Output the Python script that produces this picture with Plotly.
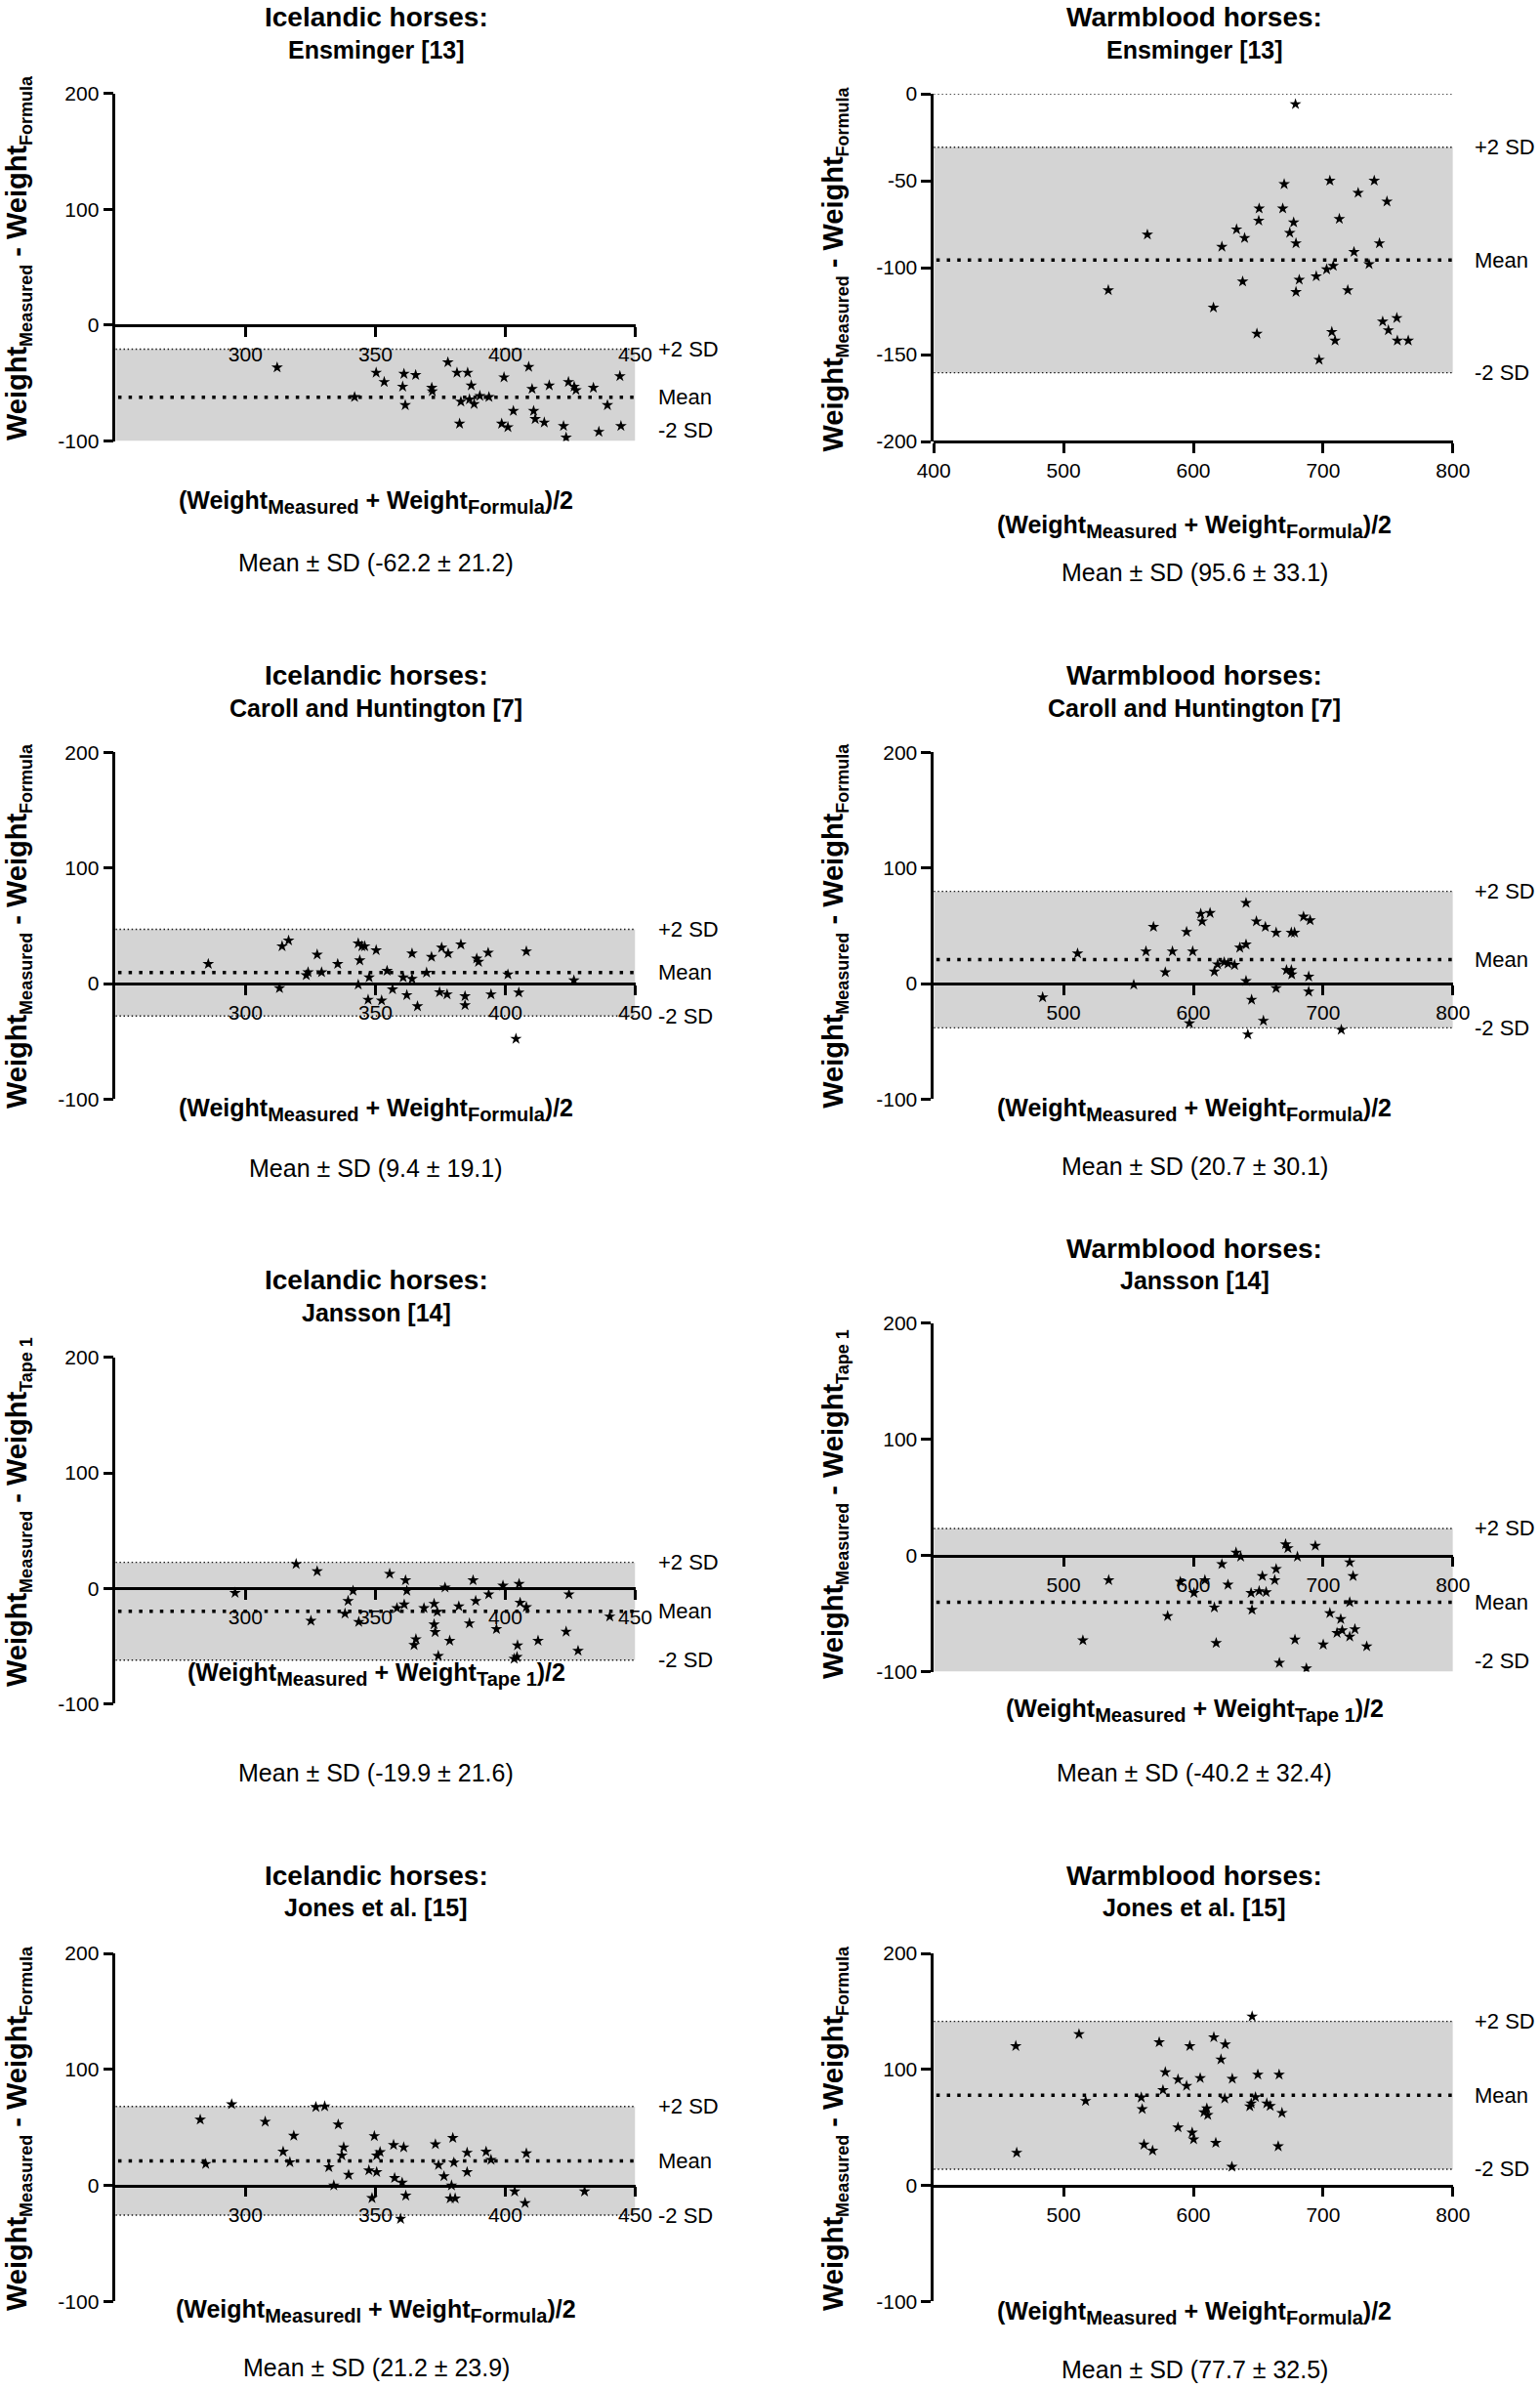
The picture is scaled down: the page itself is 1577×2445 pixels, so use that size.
import plotly.graph_objects as go

W, H = 1577, 2445
FONT = "Arial, Liberation Sans, Helvetica, sans-serif"

# ---------------- data ----------------
ice_ens_x = [312.2, 342.0, 350.3, 353.4, 361.0, 360.5, 361.5, 365.5, 371.7, 371.9, 377.9, 381.4, 385.5, 386.9,
             386.2, 382.9, 388.0, 390.2, 382.4, 393.7, 399.5, 398.6, 401.0, 403.1, 409.0, 410.3, 410.9, 411.5,
             415.0, 416.9, 422.4, 423.4, 424.3, 426.5, 427.2, 433.9, 436.0, 439.3, 444.1, 444.5]
ice_ens_y = [-36.5, -62, -41, -49, -42, -53, -69, -43, -54, -57, -32, -41, -41, -52, -64, -66, -68, -61, -85,
             -62, -45, -85, -88, -74, -36, -55, -74, -81, -84, -52, -87, -97, -49, -53, -56, -54, -92, -69,
             -44, -87]

wb_ens_x = [678.7, 564.6, 534.5, 622.0, 633.3, 639.5, 638.0, 615.5, 650.7, 650.4, 649.0, 668.9, 670.0, 677.3,
            674.3, 679.1, 681.6, 679.1, 694.7, 702.7, 707.8, 705.2, 706.7, 709.2, 696.9, 712.5, 719.0, 723.8,
            727.0, 735.4, 739.4, 743.4, 749.2, 745.9, 750.3, 756.8, 757.2, 765.6]
wb_ens_y = [-6, -81, -113, -88, -78, -83, -108, -123, -66, -73, -138, -66, -52, -74, -80, -86, -107, -114,
            -105, -101, -99, -50, -137, -142, -153, -72, -113, -91, -57, -98, -50, -86, -62, -131, -136,
            -129, -142, -142]

ice_car_x = [285.7, 313.1, 314.1, 316.6, 323.4, 324.1, 327.6, 329.3, 335.5, 343.4, 344.8, 345.9, 344.0, 343.4,
             347.6, 350.3, 347.2, 352.4, 354.5, 356.6, 360.7, 364.1, 364.1, 362.1, 366.2, 369.7, 371.6, 375.5,
             378.0, 374.7, 377.6, 382.9, 384.5, 384.5, 389.0, 389.7, 393.4, 394.5, 401.0, 405.2, 404.1, 408.1,
             426.4]
ice_car_y = [16.9, -4, 32.2, 37.2, 7.2, 9.7, 25, 9.7, 16.9, 34.7, 32.2, 32.2, 20, -1, 5.3, 28.8, -14, -14.7,
             11, -5, 5.3, 26, 4, -10, -19.7, 9.4, 23, 31, 26, -7.5, -9.4, 33.75, -11, -18.75, 21.6, 18.75,
             26.6, -9.4, 7.8, -7.8, -47.8, 27.8, 2.8]

wb_car_x = [483.9, 510.8, 554.1, 563.5, 569.3, 578.4, 583.9, 594.8, 597.0, 599.5, 605.7, 606.8, 612.9, 616.2,
            618.7, 623.8, 626.7, 631.8, 635.8, 640.6, 640.6, 640.6, 642.0, 644.9, 648.6, 654.0, 655.5, 663.8,
            663.8, 671.8, 675.5, 675.8, 675.5, 678.0, 684.9, 690.0, 688.9, 688.9, 714.0]
wb_car_y = [-11.9, 26, -1, 27.8, 49, 9.7, 27.8, 44.7, -34.4, 27.8, 60.3, 53.75, 61, 10.3, 16.6, 18.4, 17.2,
            16, 31, 33.75, 69.7, 2.2, -44, -14, 53.75, -32.2, 49, 44, -4, 11.6, 11.6, 7.8, 44, 44, 57.8,
            54.7, 6, -7, -40]

ice_jan_x = [296.0, 319.5, 327.6, 325.2, 339.5, 341.4, 338.3, 343.6, 355.5, 358.3, 361.6, 362.1, 361.1, 364.9,
             365.6, 368.7, 372.6, 373.8, 372.6, 373.0, 374.2, 376.8, 378.6, 382.1, 386.2, 387.6, 388.6, 393.6,
             396.6, 399.1, 405.3, 405.7, 408.1, 404.7, 403.4, 404.5, 412.6, 424.5, 423.4, 428.0, 440.2]
ice_jan_y = [-4, 21, 14.7, -28.2, -11, -2.2, -22, -29.2, 12.5, -17.2, 6.9, -2.2, -14.1, -49.2, -44.2, -17.2,
             -13.5, -20.4, -31.3, -38, -58.6, 0.6, -45.5, -15.7, -30.4, 6.9, -11, -5.3, -35.4, 2.2, 3.8,
             -12.5, -16.3, -49.5, -61.1, -59.6, -45.5, -5.3, -37.6, -54.2, -24.5]

wb_jan_x = [514.9, 534.8, 580.2, 590.0, 600.5, 608.9, 616.2, 617.6, 622.0, 626.7, 632.9, 636.5, 644.5, 645.2,
            650.7, 653.2, 656.1, 662.7, 663.8, 666.3, 671.1, 672.9, 678.3, 680.2, 687.1, 694.0, 700.1, 705.2,
            713.6, 710.7, 714.7, 720.5, 720.5, 720.5, 723.1, 724.5, 733.6]
wb_jan_y = [-73, -21.2, -52.1, -22.5, -32.2, -21.2, -44.7, -75.3, -7.4, -25.1, 2.6, -1, -32.2, -46.7, -30.6,
            -17.7, -31.5, -21.2, -11.6, -92.4, 9.7, 6.4, -72.4, -1, -97.2, 8.4, -76.6, -49.6, -54.7, -66.6,
            -64.4, -69.8, -40.2, -5.8, -17.7, -63.4, -78.2]

ice_jon_x = [282.6, 284.7, 294.7, 307.6, 314.5, 317.1, 318.6, 327.1, 330.5, 332.1, 334.0, 335.7, 337.8, 337.1,
             339.7, 347.5, 348.7, 349.6, 350.5, 350.5, 351.8, 357.0, 357.4, 360.3, 360.9, 361.7, 359.7, 373.1,
             374.3, 376.4, 379.3, 379.8, 380.2, 378.8, 380.7, 385.3, 385.3, 392.6, 394.5, 403.6, 408.1, 407.6,
             430.5]
ice_jon_y = [56.7, 18.5, 70, 54.9, 29.1, 20, 42.8, 67.6, 68.2, 15.8, 0, 52.5, 32.8, 25.8, 9.1, 13, -10.9,
             42.5, 11.5, 25.8, 28.8, 34.9, 6.4, 2.4, 32.8, -8.8, -28.8, 35.5, 17.6, 7.9, 0, 40.9, 19.7, -11.2,
             -11.2, 28.2, 11.5, 29.1, 22.1, -5.2, 27.6, -15.2, -5.2]

wb_jon_x = [463.2, 463.9, 511.9, 517.0, 559.9, 560.6, 562.0, 568.6, 573.7, 576.6, 578.4, 588.2, 588.2, 594.8,
            597.3, 599.1, 600.2, 605.3, 608.2, 610.4, 611.1, 615.8, 617.3, 621.3, 624.6, 624.2, 630.0, 629.7,
            643.5, 644.6, 645.3, 647.9, 649.7, 656.6, 659.2, 666.1, 665.4, 668.3]
wb_jon_y = [120.1, 28.2, 130.4, 72.8, 75.8, 65.8, 35.2, 30, 123.4, 82.2, 97.6, 91.3, 50, 85.8, 120.1, 45.5,
            39.7, 92.5, 63.1, 66.4, 60.7, 127.7, 36.7, 108.6, 121.6, 74.9, 91.9, 16.1, 68.2, 70.7, 145.6,
            76.1, 95.5, 70.7, 68.5, 95.5, 33.7, 62.5]

# bias (mean difference) and SD of each panel, as plotted
mean_vals = [-62.2, -95.6, 9.4, 20.7, -19.9, -40.2, 21.2, 77.7]
sd_vals = [21.2, 33.1, 19.1, 30.1, 21.6, 32.4, 23.9, 32.5]
stat_labels = ["Mean ± SD (-62.2 ± 21.2)", "Mean ± SD (95.6 ± 33.1)", "Mean ± SD (9.4 ± 19.1)",
               "Mean ± SD (20.7 ± 30.1)", "Mean ± SD (-19.9 ± 21.6)", "Mean ± SD (-40.2 ± 32.4)",
               "Mean ± SD (21.2 ± 23.9)", "Mean ± SD (77.7 ± 32.5)"]

breeds = ["Icelandic horses:", "Warmblood horses:"] * 4
methods = ["Ensminger [13]", "Ensminger [13]", "Caroll and Huntington [7]", "Caroll and Huntington [7]",
           "Jansson [14]", "Jansson [14]", "Jones et al. [15]", "Jones et al. [15]"]
y_subs = ["Formula", "Formula", "Formula", "Formula", "Tape 1", "Tape 1", "Formula", "Formula"]
x_first_subs = ["Measured", "Measured", "Measured", "Measured", "Measured", "Measured", "Measuredl", "Measured"]

left_xticks = [300, 350, 400, 450]
right_xticks_full = [400, 500, 600, 700, 800]
right_xticks = [500, 600, 700, 800]
std_yticks = [-100, 0, 100, 200]
ens_wb_yticks = [-200, -150, -100, -50, 0]

series = [(ice_ens_x, ice_ens_y), (wb_ens_x, wb_ens_y), (ice_car_x, ice_car_y), (wb_car_x, wb_car_y),
          (ice_jan_x, ice_jan_y), (wb_jan_x, wb_jan_y), (ice_jon_x, ice_jon_y), (wb_jon_x, wb_jon_y)]

# ---------------- layout geometry (pixels) ----------------
left_px = (118.3, 650.5)
right_px = (956.2, 1487.8)
y_px = [(95.7, 451.6), (96.0, 452.0), (770.2, 1125.4), (770.2, 1125.4),
        (1389.9, 1744.3), (1354.9, 1711.6), (2000.0, 2356.4), (2000.0, 2356.4)]
title1_y = [17.5, 17.5, 691.5, 691.5, 1310.5, 1278.0, 1920.5, 1920.5]
title2_y = [50.5, 50.5, 725.0, 725.0, 1344.0, 1310.5, 1953.0, 1953.0]
xtitle_y = [514, 539, 1136, 1136, 1714, 1751, 2366, 2368]
stat_y = [576, 586, 1196, 1194, 1815, 1815, 2424, 2426]
ytitle_c = [264, 275.5, 948, 947.8, 1548, 1540, 2179, 2179]

fig = go.Figure()
annotations = []
shapes = []


def px_x(p):
    return p / W


def px_y(p):
    return 1 - p / H


def sub(t, size):
    return f'<sub><span style="font-size:{size}px">{t}</span></sub>'


for i, (xs, ys) in enumerate(series):
    n = i + 1
    left = (i % 2 == 0)
    xr = [250, 450] if left else [400, 800]
    yr = [-200, 0] if i == 1 else [-100, 200]
    if left:
        xt = left_xticks
    elif i == 1:
        xt = right_xticks_full
    else:
        xt = right_xticks
    yt = ens_wb_yticks if i == 1 else std_yticks
    xpx = left_px if left else right_px
    ytop, ybot = y_px[i]
    xd = [px_x(xpx[0]), px_x(xpx[1])]
    yd = [px_y(ybot), px_y(ytop)]
    # x axis sits at y = 0, or at the bottom of the range if 0 is the top
    ycross = 0 if yr[0] < 0 < yr[1] else yr[0]
    pos = yd[0] + (ycross - yr[0]) / (yr[1] - yr[0]) * (yd[1] - yd[0])

    xa = "x" if n == 1 else f"x{n}"
    ya = "y" if n == 1 else f"y{n}"

    fig.add_trace(go.Scatter(x=xs, y=ys, mode="markers", xaxis=xa, yaxis=ya,
                             marker=dict(symbol="star", size=9, color="black", line=dict(width=0)),
                             showlegend=False, hoverinfo="x+y"))

    axis_common = dict(showgrid=False, zeroline=False, showline=True, linecolor="black", linewidth=2.5,
                       ticks="outside", ticklen=10, tickwidth=2.5, tickcolor="black",
                       tickfont=dict(family=FONT, size=21, color="black"), automargin=False)
    fig.layout[f"xaxis{'' if n == 1 else n}"] = dict(domain=xd, range=xr, tickvals=xt,
                                                      ticktext=[str(v) for v in xt], anchor="free",
                                                      position=pos, **axis_common)
    fig.layout[f"yaxis{'' if n == 1 else n}"] = dict(domain=yd, range=yr, tickvals=yt,
                                                      ticktext=[str(v) for v in yt], anchor=xa,
                                                      **axis_common)

    m = mean_vals[i]
    s = sd_vals[i]
    upper = m + 1.96 * s
    lower = m - 1.96 * s
    # grey limits-of-agreement band
    shapes.append(dict(type="rect", xref=xa, yref=ya, x0=xr[0], x1=xr[1],
                       y0=max(lower, yr[0]), y1=min(upper, yr[1]),
                       fillcolor="#d4d4d4", line=dict(width=0), layer="below"))
    for lim in (upper, lower):
        if yr[0] < lim < yr[1]:
            shapes.append(dict(type="line", xref=xa, yref=ya, x0=xr[0], x1=xr[1], y0=lim, y1=lim,
                               line=dict(color="#1a1a1a", width=1.4, dash="1.5px,2.6px"), layer="below"))
    if i == 1:
        shapes.append(dict(type="line", xref=xa, yref=ya, x0=xr[0], x1=xr[1], y0=0, y1=0,
                           line=dict(color="#1a1a1a", width=1.4, dash="1.5px,2.6px"), layer="below"))
    shapes.append(dict(type="line", xref=xa, yref=ya, x0=xr[0] + (xr[1] - xr[0]) * 0.005, x1=xr[1], y0=m, y1=m,
                       line=dict(color="black", width=3.5, dash="3.5px,7.2px"), layer="below"))

    # labels on the right of the band
    span = yr[1] - yr[0]
    lab_x = px_x(672 if left else 1508)
    lab_items = [("+2 SD", min(upper, yr[1] - 0.03 * span)), ("Mean", m),
                 ("-2 SD", max(lower, yr[0] + 0.03 * span))]
    for txt, yv in lab_items:
        annotations.append(dict(text=txt, xref="paper", yref=ya, x=lab_x, y=yv, xanchor="left",
                                yanchor="middle", showarrow=False,
                                font=dict(family=FONT, size=22, color="black")))

    cx = px_x(385 if left else 1223)
    annotations.append(dict(text=breeds[i], xref="paper", yref="paper", x=cx, y=px_y(title1_y[i]),
                            xanchor="center", yanchor="middle", showarrow=False,
                            font=dict(family=FONT, size=28, color="black", weight="bold")))
    annotations.append(dict(text=methods[i], xref="paper", yref="paper", x=cx, y=px_y(title2_y[i]),
                            xanchor="center", yanchor="middle", showarrow=False,
                            font=dict(family=FONT, size=25, color="black", weight="bold")))
    annotations.append(dict(text=f"(Weight{sub(x_first_subs[i], 20)} + Weight{sub(y_subs[i], 20)})/2",
                            xref="paper", yref="paper", x=cx, y=px_y(xtitle_y[i]),
                            xanchor="center", yanchor="middle", showarrow=False,
                            font=dict(family=FONT, size=25, color="black", weight="bold")))
    annotations.append(dict(text=stat_labels[i], xref="paper", yref="paper", x=cx, y=px_y(stat_y[i]),
                            xanchor="center", yanchor="middle", showarrow=False,
                            font=dict(family=FONT, size=25, color="black")))
    annotations.append(dict(text=f"Weight{sub('Measured', 18)} - Weight{sub(y_subs[i], 18)}",
                            xref="paper", yref="paper", x=px_x(19 if left else 855), y=px_y(ytitle_c[i]),
                            xanchor="center", yanchor="middle", textangle=-90, showarrow=False,
                            font=dict(family=FONT, size=29, color="black", weight="bold")))

fig.update_layout(width=W, height=H, margin=dict(l=0, r=0, t=0, b=0, autoexpand=False),
                  paper_bgcolor="white", plot_bgcolor="white",
                  annotations=annotations, shapes=shapes, showlegend=False)

fig.write_html("out.html", config={"displayModeBar": False},
               post_script="document.body.style.margin='0px';")
